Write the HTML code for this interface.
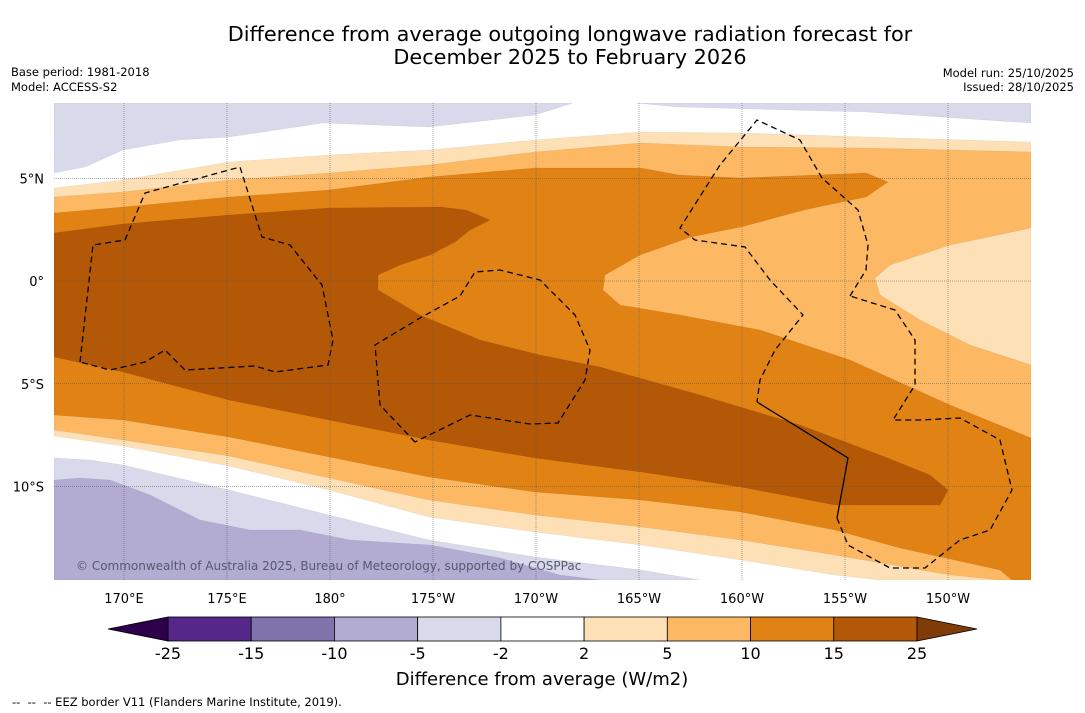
<!DOCTYPE html>
<html><head><meta charset="utf-8">
<style>
body{margin:0;background:#fff;width:1085px;height:713px;overflow:hidden;font-family:"Liberation Sans","DejaVu Sans",sans-serif;}
svg{position:absolute;left:0;top:0}
</style></head>
<body>
<svg id="s" width="1085" height="713" xmlns="http://www.w3.org/2000/svg">
<text x="570" y="41" text-anchor="middle" font-size="20.8" font-family="DejaVu Sans,sans-serif">Difference from average outgoing longwave radiation forecast for</text>
<text x="570" y="64" text-anchor="middle" font-size="20.8" font-family="DejaVu Sans,sans-serif">December 2025 to February 2026</text>
<text x="11" y="76" font-size="11.5" font-family="DejaVu Sans,sans-serif">Base period: 1981-2018</text>
<text x="11" y="91" font-size="11.5" font-family="DejaVu Sans,sans-serif">Model: ACCESS-S2</text>
<text x="1074" y="77" text-anchor="end" font-size="11.5" font-family="DejaVu Sans,sans-serif">Model run: 25/10/2025</text>
<text x="1074" y="91" text-anchor="end" font-size="11.5" font-family="DejaVu Sans,sans-serif">Issued: 28/10/2025</text>
<defs><clipPath id="mc"><rect x="54" y="103" width="977" height="477"/></clipPath></defs>
<g id="map" clip-path="url(#mc)"></g>
<g id="axes"></g>
<g id="cbar"></g>
<text x="542" y="685" text-anchor="middle" font-size="18" font-family="DejaVu Sans,sans-serif">Difference from average (W/m2)</text>
<text x="12" y="706" font-size="11.5" font-family="DejaVu Sans,sans-serif" xml:space="preserve" style="white-space:pre">--  --  -- EEZ border V11 (Flanders Marine Institute, 2019).</text>
</svg>
<script>
// Data arrays
const levels = [-25,-15,-10,-5,-2,2,5,10,15,25];
const levelColors = ["#542788","#8073ac","#b2abd2","#d8daeb","#ffffff","#fee0b6","#fdb863","#e08214","#b35806"];
const extendLow = "#2d004b", extendHigh = "#7f3b08";
const lonTicks = [170,175,180,185,190,195,200,205,210];
const lonLabels = ["170°E","175°E","180°","175°W","170°W","165°W","160°W","155°W","150°W"];
const latTicks = [5,0,-5,-10];
const latLabels = ["5°N","0°","5°S","10°S"];

// axis functions (lon east 0-360, lat)
const X = lon => 124 + (lon-170)*20.6;
const Y = lat => 281 - lat*20.55;
const LX = x => 170 + (x-124)/20.6;
const LY = y => (281-y)/20.55;

const NS="http://www.w3.org/2000/svg";
const map=document.getElementById('map');
function poly(pts,fill,name){
  const p=document.createElementNS(NS,'polygon');
  p.setAttribute('points',pts.map(q=>X(q[0]).toFixed(1)+','+Y(q[1]).toFixed(1)).join(' '));
  p.setAttribute('fill',fill);
  
  
  map.appendChild(p);
}
function toLL(arr){return arr.map(q=>[LX(q[0]),LY(q[1])]);}

const topPurpleL = toLL([[54,103],[573,103],[535,115],[429,127],[323,123],[229,137],[179,140],[123,150],[85,167],[54,173]]);
const topPurpleR = toLL([[635,103],[1031,103],[1031,123],[866,112],[679,107]]);
const botPurple = toLL([[54,458],[90,460],[123,465],[229,490],[329,515],[429,540],[535,557],[641,570],[700,580],[54,580]]);
const botPurple2 = toLL([[54,480],[80,478],[110,480],[150,495],[200,520],[250,530],[300,530],[350,540],[430,545],[500,558],[560,575],[600,580],[54,580]]);
const peach = toLL([[54,188],[123,180],[229,162],[329,155],[429,150],[535,140],[641,132],[741,133],[866,137],[1031,142],[1031,580],[880,580],[835,575],[741,560],[641,545],[535,532],[429,517],[329,490],[229,466],[123,446],[54,436]]);
const lightOr = toLL([[54,197],[123,192],[229,180],[329,173],[429,165],[535,152],[641,143],[741,147],[866,148],[1031,152],[1031,580],[1000,580],[950,575],[835,555],[741,540],[641,527],[535,515],[429,500],[329,478],[229,456],[123,440],[54,430]]);
const orange = toLL([[54,213],[123,207],[229,197],[329,190],[429,177],[535,168],[641,168],[679,175],[741,178],[866,173],[888,182],[866,197],[804,210],[741,227],[691,237],[640,255],[605,275],[603,290],[620,305],[680,315],[760,330],[850,360],[950,405],[1031,438],[1031,580],[1012,580],[1000,570],[900,548],[835,530],[741,512],[641,500],[535,492],[429,477],[329,457],[229,437],[123,420],[54,415]]);
const brown = toLL([[54,233],[123,224],[229,215],[329,208],[441,207],[466,210],[490,220],[470,230],[455,242],[430,255],[400,265],[378,275],[378,290],[420,315],[480,340],[540,355],[600,367],[700,395],[800,425],[880,455],[930,475],[948,490],[940,505],[835,505],[741,487],[641,472],[535,458],[429,440],[329,420],[229,400],[123,372],[54,357]]);
const peachBump = toLL([[1031,228],[950,245],[890,265],[875,278],[880,295],[920,320],[970,345],[1031,365]]);

const bg=document.createElementNS(NS,'rect');
bg.setAttribute('x',54);bg.setAttribute('y',103);bg.setAttribute('width',977);bg.setAttribute('height',477);bg.setAttribute('fill','#fff');


map.appendChild(bg);
poly(topPurpleL,"#d8daeb","region-minus5-top-left");
poly(topPurpleR,"#d8daeb","region-minus5-top-right");
poly(botPurple,"#d8daeb","region-minus5-bottom");
poly(botPurple2,"#b2abd2","region-minus10-bottom");
poly(peach,"#fee0b6","region-2-to-5");
poly(lightOr,"#fdb863","region-5-to-10");
poly(orange,"#e08214","region-10-to-15");
poly(brown,"#b35806","region-15-to-25");
poly(peachBump,"#fee0b6","region-2-to-5-east");

map.querySelectorAll('polygon').forEach(p=>{p.setAttribute('stroke','rgba(0,0,0,0.08)');p.setAttribute('stroke-width','0.6');});

function line(pts,dash,name){
  const p=document.createElementNS(NS,'polyline');
  p.setAttribute('points',pts.map(q=>X(q[0]).toFixed(1)+','+Y(q[1]).toFixed(1)).join(' '));
  p.setAttribute('fill','none');p.setAttribute('stroke','#000');p.setAttribute('stroke-width','1.3');
  if(dash)p.setAttribute('stroke-dasharray','6,4');
  
  
  map.appendChild(p);
}
line(toLL([[80,362],[93,245],[125,240],[145,193],[185,182],[240,167],[262,237],[290,245],[322,285],[333,340],[328,365],[275,372],[255,366],[185,370],[165,350],[145,362],[110,370],[80,362]]),true,'eez-gilbert');
line(toLL([[415,442],[380,405],[375,345],[420,318],[460,296],[475,272],[500,270],[540,280],[575,315],[590,350],[585,380],[558,423],[530,424],[470,415],[415,442]]),true,'eez-phoenix');
line(toLL([[850,296],[866,270],[868,245],[858,210],[822,178],[800,140],[757,120],[720,165],[680,228],[695,240],[745,247],[770,280],[803,315],[775,350],[760,380],[757,402]]),true,'eez-line-islands');
line(toLL([[757,402],[848,458],[837,518]]),false,'eez-solid-segment');
line(toLL([[837,518],[848,545],[890,568],[925,568],[960,540],[990,530],[1012,490],[1000,440],[960,418],[920,420],[893,420],[915,385],[915,340],[895,310],[850,296]]),true,'eez-southern-line');

const axes=document.getElementById('axes');
lonTicks.forEach((v,i)=>{
  const l=document.createElementNS(NS,'line');
  l.setAttribute('x1',X(v));l.setAttribute('x2',X(v));l.setAttribute('y1',103);l.setAttribute('y2',580);
  l.setAttribute('stroke','#555');l.setAttribute('stroke-width','0.5');l.setAttribute('stroke-dasharray','1,1');
  
  
  axes.appendChild(l);
  const t=document.createElementNS(NS,'text');
  t.setAttribute('x',X(v));t.setAttribute('y',603);t.setAttribute('text-anchor','middle');t.setAttribute('font-size','13');t.setAttribute('font-family','DejaVu Sans,sans-serif');
  t.textContent=lonLabels[i];
  
  
  axes.appendChild(t);
});
latTicks.forEach((v,i)=>{
  const l=document.createElementNS(NS,'line');
  l.setAttribute('x1',54);l.setAttribute('x2',1031);l.setAttribute('y1',Y(v));l.setAttribute('y2',Y(v));
  l.setAttribute('stroke','#555');l.setAttribute('stroke-width','0.5');l.setAttribute('stroke-dasharray','1,1');
  
  
  axes.appendChild(l);
  const t=document.createElementNS(NS,'text');
  t.setAttribute('x',44);t.setAttribute('y',Y(v)+5);t.setAttribute('text-anchor','end');t.setAttribute('font-size','13');t.setAttribute('font-family','DejaVu Sans,sans-serif');
  t.textContent=latLabels[i];
  
  
  axes.appendChild(t);
});
const cp=document.createElementNS(NS,'text');
cp.setAttribute('x',76);cp.setAttribute('y',570);cp.setAttribute('font-size','12');cp.setAttribute('fill','#555a70');cp.setAttribute('font-family','DejaVu Sans,sans-serif');
cp.textContent='© Commonwealth of Australia 2025, Bureau of Meteorology, supported by COSPPac';


axes.appendChild(cp);

const cb=document.getElementById('cbar');
const cx0=168, cx1=917, cy=617, ch=24, bw=(cx1-cx0)/levelColors.length;
levelColors.forEach((c,i)=>{
  const r=document.createElementNS(NS,'rect');
  r.setAttribute('x',cx0+i*bw);r.setAttribute('y',cy);r.setAttribute('width',bw);r.setAttribute('height',ch);
  r.setAttribute('fill',c);r.setAttribute('stroke','#000');r.setAttribute('stroke-width','0.8');
  
  
  cb.appendChild(r);
});
const tl=document.createElementNS(NS,'polygon');
tl.setAttribute('points',`${cx0},${cy} 108,${cy+ch/2} ${cx0},${cy+ch}`);tl.setAttribute('fill',extendLow);tl.setAttribute('stroke','#000');tl.setAttribute('stroke-width','0.8');


cb.appendChild(tl);
const tr=document.createElementNS(NS,'polygon');
tr.setAttribute('points',`${cx1},${cy} 977,${cy+ch/2} ${cx1},${cy+ch}`);tr.setAttribute('fill',extendHigh);tr.setAttribute('stroke','#000');tr.setAttribute('stroke-width','0.8');


cb.appendChild(tr);
levels.forEach((v,i)=>{
  const t=document.createElementNS(NS,'text');
  t.setAttribute('x',cx0+i*bw);t.setAttribute('y',659);t.setAttribute('text-anchor','middle');t.setAttribute('font-size','16');t.setAttribute('font-family','DejaVu Sans,sans-serif');
  t.textContent=String(v);
  
  
  cb.appendChild(t);
});
</script>
</body></html>
